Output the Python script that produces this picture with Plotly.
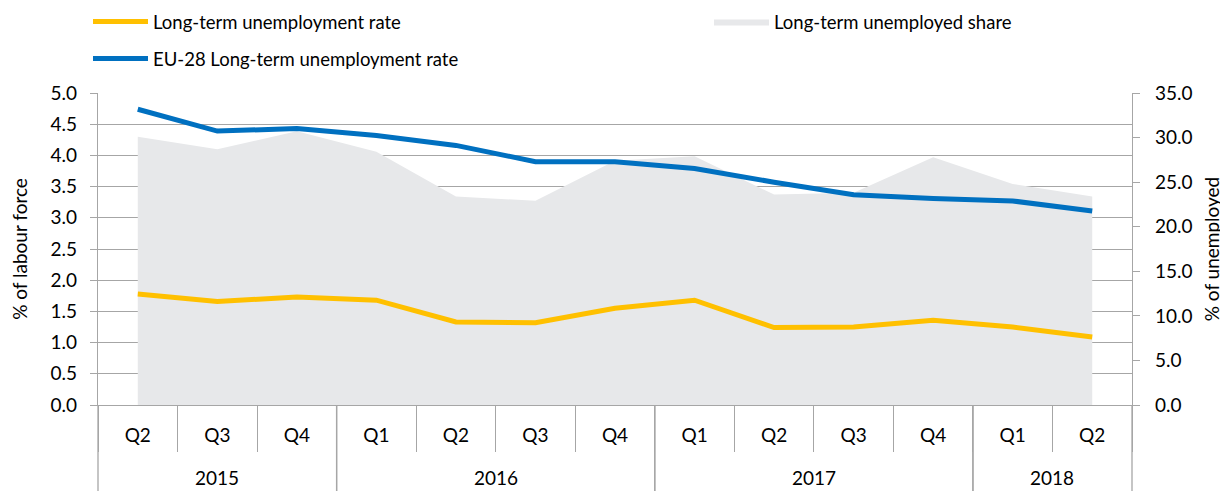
import plotly.graph_objects as go

years = ["2015"] * 3 + ["2016"] * 4 + ["2017"] * 4 + ["2018"] * 2
quarters = ["Q2", "Q3", "Q4", "Q1", "Q2", "Q3", "Q4", "Q1", "Q2", "Q3", "Q4", "Q1", "Q2"]

lt_rate = [1.78, 1.66, 1.73, 1.68, 1.33, 1.32, 1.55, 1.68, 1.24, 1.25, 1.36, 1.25, 1.09]
eu28_rate = [4.74, 4.39, 4.43, 4.32, 4.16, 3.90, 3.90, 3.79, 3.57, 3.37, 3.31, 3.27, 3.11]
lt_share = [30.1, 28.7, 30.7, 28.4, 23.4, 22.9, 27.4, 27.9, 23.6, 23.8, 27.8, 24.8, 23.4]

FONT = "Lato"
GRID = "#A6A6A6"
W, H = 1228, 491
ML, MR, MT, MB = 90, 104, 85, 94   # page is offset by the 8px body margin
PH = H - MT - MB

cats = [f"{y} {q}" for y, q in zip(years, quarters)]
n = len(cats)

fig = go.Figure()
fig.add_trace(go.Scatter(
    x=cats, y=lt_share, name="Long-term unemployed share", mode="lines",
    line=dict(width=0, color="#E7E8EA"), fill="tozeroy", fillcolor="#E7E8EA",
    yaxis="y", legend="legend3",
))
fig.add_trace(go.Scatter(
    x=cats, y=lt_rate, name="Long-term unemployment rate", mode="lines",
    line=dict(width=5, color="#FFC000"), yaxis="y2", legend="legend",
))
fig.add_trace(go.Scatter(
    x=cats, y=eu28_rate, name="EU-28 Long-term unemployment rate", mode="lines",
    line=dict(width=5, color="#0070C0"), yaxis="y2", legend="legend2",
))

tickfont = dict(family=FONT, size=19, color="#000000")
legfont = dict(family=FONT, size=18.5, color="#000000")


def leg(xpx, ypx):
    return dict(orientation="h", xref="container", yref="container",
                x=xpx / W, y=1 - ypx / H, xanchor="left", yanchor="middle",
                font=legfont, bgcolor="rgba(0,0,0,0)", itemwidth=55)


# year group labels and dividers, derived from the data categories
shapes = []
annotations = []
groups = []
for i, y in enumerate(years):
    if not groups or groups[-1][0] != y:
        groups.append([y, i, i])
    else:
        groups[-1][2] = i
bottom = -(H - 8 - (H - MB)) / PH
for y, i0, i1 in groups:
    annotations.append(dict(
        text=y, x=((i0 + i1) / 2 + 0.5) / n, xref="paper", y=-(469 - (H - MB)) / PH,
        yref="paper", xanchor="center", yanchor="middle", showarrow=False,
        font=tickfont,
    ))
    for b in (i0, i1 + 1):
        shapes.append(dict(type="line", xref="paper", yref="paper",
                           x0=b / n, x1=b / n, y0=0, y1=bottom,
                           line=dict(color=GRID, width=1.3)))

fig.update_layout(
    width=W, height=H,
    margin=dict(l=ML, r=MR, t=MT, b=MB, autoexpand=False),
    paper_bgcolor="white", plot_bgcolor="white",
    font=dict(family=FONT, size=19, color="#000000"),
    showlegend=True,
    legend=leg(80, 14),
    legend2=leg(80, 51),
    legend3=leg(701, 14),
    shapes=shapes,
    annotations=annotations,
    xaxis=dict(
        type="category", range=[-0.5, n - 0.5],
        tickvals=cats, ticktext=quarters,
        showline=True, linecolor=GRID, linewidth=1.3,
        ticks="outside", tickson="boundaries", ticklen=46, tickcolor=GRID, tickwidth=1.3,
        showgrid=False, tickfont=tickfont, ticklabelstandoff=13,
    ),
    yaxis=dict(
        side="right", range=[0, 35], dtick=5, tickformat=".1f",
        showgrid=False, zeroline=False, showline=True, linecolor=GRID, linewidth=1.3,
        ticks="outside", ticklen=7, tickcolor=GRID, tickwidth=1.3,
        tickfont=tickfont, ticklabelstandoff=11,
        title=dict(text="% of unemployed", font=dict(family=FONT, size=19), standoff=14),
    ),
    yaxis2=dict(
        overlaying="y", side="left", range=[0, 5], dtick=0.5, tickformat=".1f",
        showgrid=True, gridcolor=GRID, gridwidth=1.3, zeroline=False,
        showline=True, linecolor=GRID, linewidth=1.3,
        ticks="outside", ticklen=7, tickcolor=GRID, tickwidth=1.3,
        tickfont=tickfont, ticklabelstandoff=9,
        title=dict(text="% of labour force", font=dict(family=FONT, size=19), standoff=19),
    ),
)

fig.write_html("out.html")
